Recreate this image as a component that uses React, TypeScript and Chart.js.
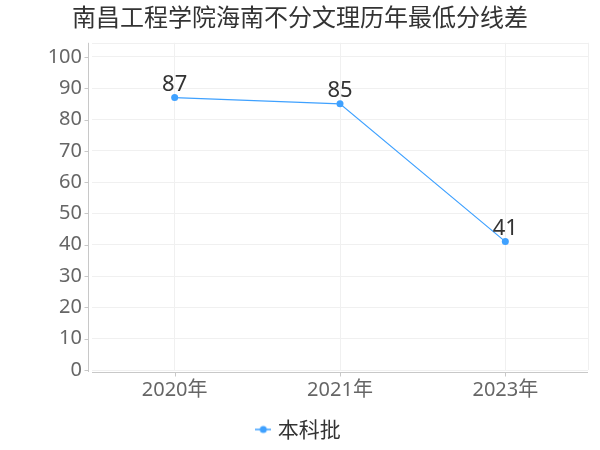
import React, { useEffect, useRef } from "react";
import { Chart, registerables } from "chart.js";

Chart.register(...registerables);

const title = "南昌工程学院海南不分文理历年最低分线差";
const categories = ["2020年", "2021年", "2023年"];
const seriesName = "本科批";
const seriesValues = [87, 85, 41];
const yTicks = [0, 10, 20, 30, 40, 50, 60, 70, 80, 90, 100];

const LINE = "#3fa1ff";
const NUM_FONT = '"Noto Sans", "Noto Sans CJK SC", sans-serif';
const CJK_FONT = '"Noto Sans CJK SC", "Noto Sans", sans-serif';

function makeLegendIcon(): HTMLCanvasElement {
  const c = document.createElement("canvas");
  c.width = 16;
  c.height = 10;
  const ctx = c.getContext("2d")!;
  ctx.strokeStyle = LINE;
  ctx.lineWidth = 1.5;
  ctx.beginPath();
  ctx.moveTo(0, 5);
  ctx.lineTo(16, 5);
  ctx.stroke();
  ctx.fillStyle = LINE;
  ctx.beginPath();
  ctx.arc(8, 5, 3.5, 0, Math.PI * 2);
  ctx.fill();
  return c;
}

const valueLabels = {
  id: "valueLabels",
  afterDatasetsDraw(chart: any) {
    const ctx = chart.ctx;
    const meta = chart.getDatasetMeta(0);
    ctx.save();
    ctx.font = `22px ${NUM_FONT}`;
    ctx.fillStyle = "#333";
    ctx.textAlign = "center";
    ctx.textBaseline = "middle";
    meta.data.forEach((pt: any, i: number) => {
      ctx.fillText(String(seriesValues[i]), pt.x, pt.y - 13);
    });
    ctx.restore();
  },
};

const axesFrame = {
  id: "axesFrame",
  beforeDatasetsDraw(chart: any) {
    const { ctx, chartArea } = chart;
    const { left, right, top, bottom } = chartArea;
    const xs = chart.scales.x;
    const ys = chart.scales.y;
    ctx.save();
    ctx.strokeStyle = "#f0f0f0";
    ctx.lineWidth = 1;
    ctx.beginPath();
    ctx.moveTo(Math.round(right) + 0.5, top);
    ctx.lineTo(Math.round(right) + 0.5, bottom);
    ctx.moveTo(left, Math.round(top) + 0.5);
    ctx.lineTo(right, Math.round(top) + 0.5);
    ctx.stroke();
    ctx.strokeStyle = "#c8c8c8";
    const ax = Math.round(left) - 4 + 0.5;
    ctx.beginPath();
    ctx.moveTo(ax, top);
    ctx.lineTo(ax, bottom + 2);
    yTicks.forEach((v) => {
      const y = Math.round(ys.getPixelForValue(v)) + 0.5;
      ctx.moveTo(ax - 4, y);
      ctx.lineTo(ax, y);
    });
    const ay = Math.round(bottom) + 2 + 0.5;
    ctx.moveTo(left, ay);
    ctx.lineTo(right, ay);
    categories.forEach((_, i) => {
      const x = Math.round(xs.getPixelForValue(i)) + 0.5;
      ctx.moveTo(x, ay);
      ctx.lineTo(x, ay + 4);
    });
    ctx.stroke();
    ctx.restore();
  },
};

export default function App() {
  const ref = useRef<HTMLCanvasElement>(null);
  useEffect(() => {
    if (!ref.current) return;
    const icon = makeLegendIcon();
    const chart = new Chart(ref.current, {
      type: "line",
      data: {
        labels: categories,
        datasets: [
          {
            label: seriesName,
            data: seriesValues,
            borderColor: LINE,
            backgroundColor: LINE,
            borderWidth: 1.2,
            pointRadius: 3.5,
            pointHoverRadius: 3.5,
            pointBackgroundColor: LINE,
            pointBorderWidth: 0,
            tension: 0,
          },
        ],
      },
      options: {
        animation: false,
        responsive: false,
        events: [],
        layout: { padding: { left: 12, right: 12, top: 0, bottom: 0 } },
        plugins: {
          title: {
            display: true,
            text: title,
            color: "#333",
            font: { family: CJK_FONT, size: 24, weight: "normal" },
            padding: { top: 2, bottom: 12 },
          },
          legend: {
            display: true,
            position: "bottom",
            labels: {
              usePointStyle: true,
              pointStyleWidth: 8,
              color: "#333",
              font: { family: CJK_FONT, size: 21 },
              padding: 6,
              generateLabels: () => [
                {
                  text: seriesName,
                  pointStyle: icon as any,
                  fillStyle: LINE,
                  strokeStyle: LINE,
                  lineWidth: 0,
                  hidden: false,
                  datasetIndex: 0,
                  fontColor: "#333",
                },
              ],
            },
          },
          tooltip: { enabled: false },
        },
        scales: {
          x: {
            offset: true,
            afterFit: (scale: any) => {
              scale.height = 43;
            },
            grid: {
              display: true,
              offset: false,
              color: "#f0f0f0",
              drawTicks: false,
            },
            border: { display: false },
            ticks: {
              color: "#666",
              font: { family: NUM_FONT, size: 20 },
              padding: 8,
            },
          },
          y: {
            min: 0,
            max: 104.5,
            afterFit: (scale: any) => {
              scale.width = 80;
            },
            afterBuildTicks: (scale: any) => {
              scale.ticks = yTicks.map((v) => ({ value: v }));
            },
            grid: {
              color: "#f0f0f0",
              drawTicks: false,
            },
            border: { display: false },
            ticks: {
              color: "#666",
              font: { family: NUM_FONT, size: 20 },
              padding: 10,
            },
          },
        },
      },
      plugins: [axesFrame, valueLabels],
    });
    return () => chart.destroy();
  }, []);
  return (
    <div style={{ position: "fixed", left: 0, top: 0, width: 600, height: 450, background: "#fff" }}>
      <canvas ref={ref} width={600} height={450} style={{ display: "block" }} />
    </div>
  );
}
